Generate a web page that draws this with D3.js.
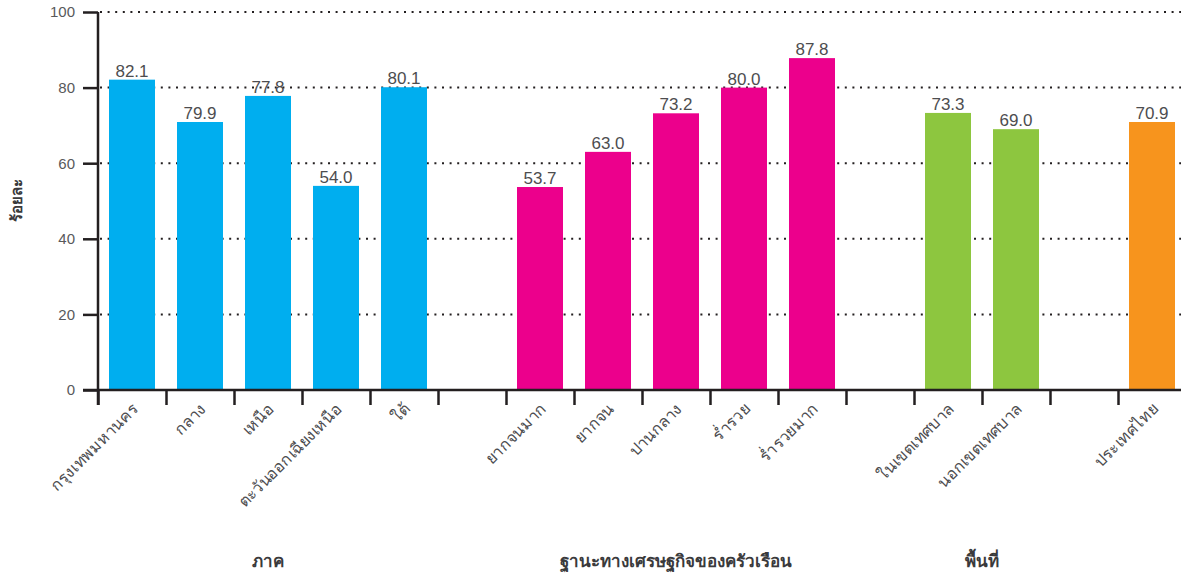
<!DOCTYPE html>
<html>
<head>
<meta charset="utf-8">
<script src="https://cdn.jsdelivr.net/npm/d3@7"></script>
<style>
  body { margin: 0; background: #fff; }
  text { font-family: "Liberation Sans", "Noto Sans", sans-serif; }
</style>
</head>
<body>
<script>
// categories per slot, empty strings are the gaps between groups
var categories = ["กรุงเทพมหานคร", "กลาง", "เหนือ", "ตะวันออกเฉียงเหนือ", "ใต้", "",
                  "ยากจนมาก", "ยากจน", "ปานกลาง", "ร่ำรวย", "ร่ำรวยมาก", "",
                  "ในเขตเทศบาล", "นอกเขตเทศบาล", "", "ประเทศไทย"];
// bar heights as drawn (กลาง is drawn at ~70.9 although labelled 79.9)
var values = [82.1, 70.9, 77.8, 54.0, 80.1, null,
              53.7, 63.0, 73.2, 80.0, 87.8, null,
              73.3, 69.0, null, 70.9];
var valueLabels = ["82.1", "79.9", "77.8", "54.0", "80.1", "",
                   "53.7", "63.0", "73.2", "80.0", "87.8", "",
                   "73.3", "69.0", "", "70.9"];
var groupOf = [0, 0, 0, 0, 0, -1, 1, 1, 1, 1, 1, -1, 2, 2, -1, 3];
var groupColors = ["#00aeef", "#ec008c", "#8dc63f", "#f7941d"];
var groupTitles = [
  {name: "ภาค", from: 0, to: 5},
  {name: "ฐานะทางเศรษฐกิจของครัวเรือน", from: 6, to: 11},
  {name: "พื้นที่", from: 12, to: 14}
];
var yTicks = [0, 20, 40, 60, 80, 100];

var W = 1181, H = 576;
var mLeft = 98, mTop = 12, mBottom = 390;
var step = 68, barW = 46;

var svg = d3.select("body").append("svg")
  .attr("width", W).attr("height", H);

var x = d3.scaleLinear().domain([0, categories.length]).range([mLeft, mLeft + step * categories.length]);
var y = d3.scaleLinear().domain([0, 100]).range([mBottom, mTop]);

// dotted gridlines
svg.append("g").selectAll("line")
  .data(yTicks.filter(function(d) { return d > 0; }))
  .enter().append("line")
  .attr("x1", mLeft + 2).attr("x2", W)
  .attr("y1", function(d) { return y(d); })
  .attr("y2", function(d) { return y(d); })
  .attr("stroke", "#231f20")
  .attr("stroke-width", 2)
  .attr("stroke-dasharray", "2,5.6");

// bars
var idx = d3.range(categories.length).filter(function(i) { return values[i] != null; });

svg.append("g").selectAll("rect")
  .data(idx)
  .enter().append("rect")
  .attr("x", function(i) { return x(i) + (step - barW) / 2; })
  .attr("width", barW)
  .attr("y", function(i) { return y(values[i]); })
  .attr("height", function(i) { return y(0) - y(values[i]); })
  .attr("fill", function(i) { return groupColors[groupOf[i]]; });

// value labels
svg.append("g").selectAll("text")
  .data(idx)
  .enter().append("text")
  .attr("x", function(i) { return x(i) + step / 2; })
  .attr("y", function(i) { return y(values[i]) - 3; })
  .attr("text-anchor", "middle")
  .style("font-size", "17px")
  .style("fill", "#4d4d4f")
  .text(function(i) { return valueLabels[i]; });

// y axis
var yAxis = d3.axisLeft(y).tickValues(yTicks).tickSize(15).tickPadding(8);
var gy = svg.append("g")
  .attr("transform", "translate(" + mLeft + ",0)")
  .call(yAxis);
gy.select(".domain").remove();
gy.selectAll(".tick line").attr("stroke", "#231f20").attr("stroke-width", 2.5);
gy.selectAll(".tick text").style("font-size", "15px").style("fill", "#58595b")
  .style("font-family", "Liberation Sans, sans-serif");

// x axis ticks at slot boundaries
var xAxis = d3.axisBottom(x).tickValues(d3.range(0, categories.length)).tickSize(15).tickFormat("");
var gx = svg.append("g")
  .attr("transform", "translate(0," + mBottom + ")")
  .call(xAxis);
gx.select(".domain").remove();
gx.selectAll(".tick line").attr("stroke", "#231f20").attr("stroke-width", 2.5);

// axis lines
svg.append("line")
  .attr("x1", mLeft).attr("x2", mLeft)
  .attr("y1", mTop).attr("y2", mBottom + 15)
  .attr("stroke", "#231f20").attr("stroke-width", 2.5);
svg.append("line")
  .attr("x1", mLeft - 15).attr("x2", W)
  .attr("y1", mBottom).attr("y2", mBottom)
  .attr("stroke", "#231f20").attr("stroke-width", 2.5);

// category labels
svg.append("g").selectAll("text")
  .data(idx)
  .enter().append("text")
  .attr("transform", function(i) {
    return "translate(" + (x(i) + step / 2 + 7) + "," + (mBottom + 20) + ") rotate(-45)";
  })
  .attr("text-anchor", "end")
  .style("font-size", "16px")
  .style("fill", "#4d4d4f")
  .text(function(i) { return categories[i]; });

// group titles
svg.append("g").selectAll("text")
  .data(groupTitles)
  .enter().append("text")
  .attr("x", function(d) { return (x(d.from) + x(d.to)) / 2; })
  .attr("y", 567)
  .attr("text-anchor", "middle")
  .style("font-size", "17px")
  .style("font-weight", "bold")
  .style("fill", "#3a3a3c")
  .text(function(d) { return d.name; });

// y axis title
svg.append("text")
  .attr("transform", "translate(22,200) rotate(-90)")
  .attr("text-anchor", "middle")
  .style("font-size", "15px")
  .style("font-weight", "bold")
  .style("fill", "#3a3a3c")
  .text("ร้อยละ");
</script>
</body>
</html>
